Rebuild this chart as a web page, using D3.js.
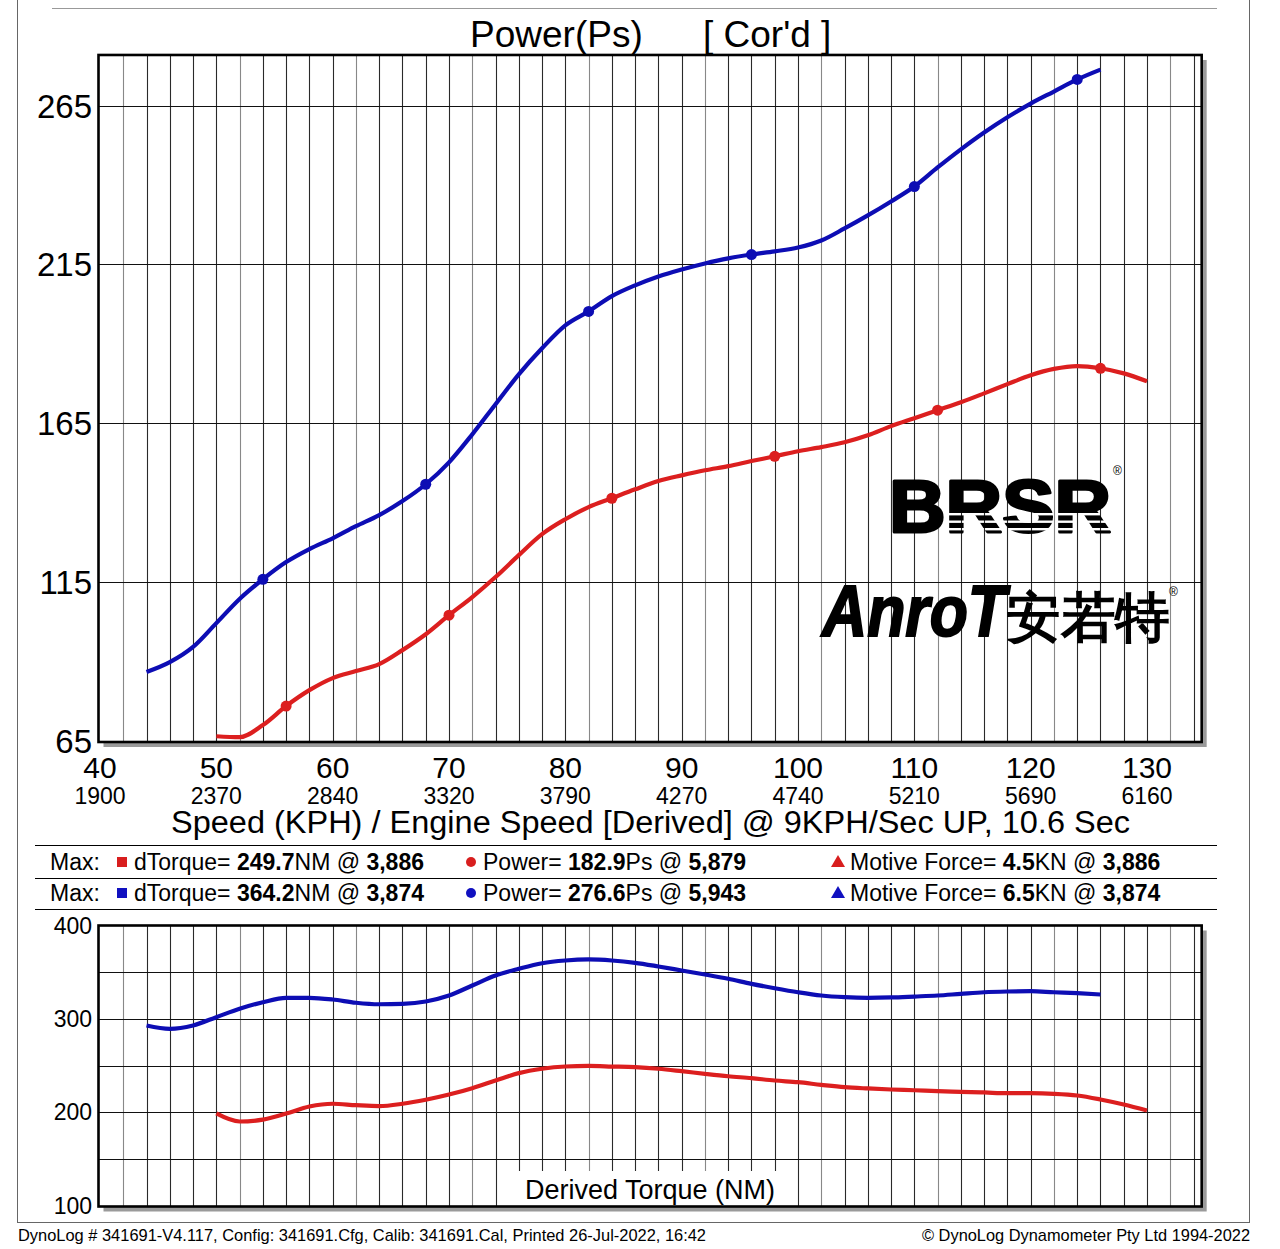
<!DOCTYPE html>
<html><head><meta charset="utf-8">
<script src="https://cdn.jsdelivr.net/npm/d3@7"></script>
<style>body{margin:0;background:#fff}svg{display:block}text{font-family:"Liberation Sans",Arial,sans-serif}</style>
</head><body><div id="c"></div>
<script>
// ---------------- data ----------------
const speedTicks = [40,50,60,70,80,90,100,110,120,130];
const rpmTicks = ["1900","2370","2840","3320","3790","4270","4740","5210","5690","6160"];
const powerTicks = [65,115,165,215,265];
const torqueTicks = [100,200,300,400];

const blueSpeed = d3.range(44,127,2);
const redSpeed = d3.range(50,131,2);

const bluePower = [86.7,89.8,94.6,102.1,109.7,115.9,121.3,125.4,128.8,132.6,136.1,140.5,145.8,152.7,161.5,171.0,180.4,188.6,195.8,200.2,205.0,208.4,211.2,213.4,215.3,216.9,218.1,219.1,220.3,222.5,226.3,230.4,234.8,239.5,245.5,251.2,256.5,261.3,265.6,269.4,273.2,276.3];
const redPower = [66.5,66.2,70,76,81,84.8,87,89.2,93.6,98.6,104.6,110.3,116.6,123.5,130.1,134.8,138.6,141.4,144.2,146.8,148.6,150.2,151.5,153.1,154.6,156.2,157.5,159,161.2,164.1,166.6,169.1,171.6,174.4,177.3,180.1,182.1,183,182.3,180.7,178.2];
const blueTorque = [292.9,289.3,292.9,301.8,310.8,317.8,322.5,322.5,320.7,317.2,315.6,316.1,318.6,325,335.7,346.4,353.6,359.6,362.5,363.6,362.5,360,356.1,351.8,347.5,342.9,337.5,332.8,328.5,325,323.2,322.5,322.9,323.9,325,326.8,328.5,329.3,329.6,328.5,327.5,326.1];
const redTorque = [198.6,190,192,198.5,206,209,207.5,206.5,209,213.3,218.9,225.7,233.9,241.8,246.5,248.9,249.5,248.9,248.2,246.5,243.9,241.1,238.5,236.4,233.9,232.1,229.3,226.8,225.4,224.3,223.5,222.5,221.8,221.1,220.3,220.3,219.7,217.9,213.6,208.2,201.8];

const blueMarkers = [54,68,82,96,110,124];
const redMarkers = [56,70,84,98,112,126];

const legendRows = [
  {color:"#d81e1e", torque:"249.7", tRpm:"3,886", power:"182.9", pRpm:"5,879", force:"4.5", fRpm:"3,886"},
  {color:"#1010c0", torque:"364.2", tRpm:"3,874", power:"276.6", pRpm:"5,943", force:"6.5", fRpm:"3,874"}
];

// ---------------- drawing ----------------
const W=1280,H=1249;
const BLUE="#0d0db4", RED="#dc1f1f";
const svg = d3.select("#c").append("svg").attr("width",W).attr("height",H);

const x = d3.scaleLinear().domain([40,130]).range([100,1147]);
const xEnd = 134.7;
const yP = d3.scaleLinear().domain([65,265]).range([741,105.5]);
const yT = d3.scaleLinear().domain([100,400]).range([1205.5,925.5]);

// outer page frame
const g0 = svg.append("g").attr("stroke","#666").attr("stroke-width",1);
g0.append("line").attr("x1",52).attr("x2",1217).attr("y1",8.5).attr("y2",8.5).attr("stroke","#999");
g0.append("line").attr("x1",17.5).attr("x2",17.5).attr("y1",0).attr("y2",1222);
g0.append("line").attr("x1",1249.5).attr("x2",1249.5).attr("y1",0).attr("y2",1222);
g0.append("line").attr("x1",17).attr("x2",1250).attr("y1",1222.5).attr("y2",1222.5);

function panel(y, yTopVal, yBotVal, hTicks){
  const x0 = x(40)-1.5, x1 = x(xEnd), y0 = y(yTopVal), y1 = y(yBotVal)+1;
  const g = svg.append("g");
  g.append("rect").attr("x",x0+5).attr("y",y0+5).attr("width",x1-x0).attr("height",y1-y0).attr("fill","#9a9a9a");
  g.append("rect").attr("x",x0).attr("y",y0).attr("width",x1-x0).attr("height",y1-y0).attr("fill","#fff");
  const vt = d3.range(42, xEnd, 2);
  g.selectAll(".v").data(vt).join("line")
    .attr("x1",d=>Math.round(x(d))+0.5).attr("x2",d=>Math.round(x(d))+0.5)
    .attr("y1",y0).attr("y2",y1)
    .attr("stroke",(d,i)=> (i%5===0)?"#888":"#2a2a2a").attr("stroke-width",1.1);
  g.selectAll(".h").data(hTicks).join("line")
    .attr("x1",x0).attr("x2",x1)
    .attr("y1",d=>Math.round(y(d))+0.5).attr("y2",d=>Math.round(y(d))+0.5)
    .attr("stroke","#111").attr("stroke-width",1.2);
  return {g,x0,x1,y0,y1};
}
function frame(p){
  p.g.append("rect").attr("x",p.x0).attr("y",p.y0).attr("width",p.x1-p.x0).attr("height",p.y1-p.y0)
    .attr("fill","none").attr("stroke","#000").attr("stroke-width",2.6);
}

// ---- top panel ----
const topP = panel(yP, 280.9, 65, [115,165,215,265]);

// logo (drawn over grid)
const defs = svg.append("defs");
const mask = defs.append("mask").attr("id","stripes").attr("maskUnits","userSpaceOnUse")
  .attr("x",0).attr("y",0).attr("width",W).attr("height",H);
mask.append("rect").attr("width",W).attr("height",H).attr("fill","#fff");
[513,520.5,528].forEach(yy=>mask.append("rect").attr("x",944).attr("y",yy).attr("width",180).attr("height",2.4).attr("fill","#000"));
const logo = svg.append("g");
logo.append("text").attr("x",889).attr("y",532).attr("font-family","DejaVu Sans").attr("font-weight","bold")
  .attr("font-size",74).attr("textLength",222).attr("lengthAdjust","spacingAndGlyphs")
  .attr("fill","#000").attr("stroke","#000").attr("stroke-width",3).attr("stroke-linejoin","round")
  .attr("mask","url(#stripes)").text("BRSR");
logo.append("text").attr("x",1113).attr("y",475).attr("font-size",12).text("®");
logo.append("text").attr("x",822).attr("y",636).attr("font-family","DejaVu Sans").attr("font-weight","bold")
  .attr("font-style","italic").attr("font-size",72).attr("textLength",184).attr("lengthAdjust","spacingAndGlyphs")
  .attr("fill","#000").attr("stroke","#000").attr("stroke-width",2).text("AnroT");
logo.append("text").attr("x",1006).attr("y",636).attr("font-family","Noto Sans CJK SC").attr("font-weight","bold")
  .attr("font-size",54).attr("textLength",164).attr("lengthAdjust","spacingAndGlyphs").attr("fill","#000").text("安若特");
logo.append("text").attr("x",1169).attr("y",596).attr("font-size",12).text("®");

frame(topP);

const line = (ys, yScale, xs) => d3.line().curve(d3.curveMonotoneX)
  .x((d,i)=>x(xs[i])).y(d=>yScale(d))(ys);

svg.append("path").attr("d",line(bluePower,yP,blueSpeed)).attr("fill","none").attr("stroke",BLUE).attr("stroke-width",4.2).attr("stroke-linejoin","round");
svg.append("path").attr("d",line(redPower,yP,redSpeed)).attr("fill","none").attr("stroke",RED).attr("stroke-width",4.2).attr("stroke-linejoin","round");
svg.selectAll(".bm").data(blueMarkers).join("circle")
  .attr("cx",d=>x(d)).attr("cy",d=>yP(bluePower[blueSpeed.indexOf(d)])).attr("r",5.5).attr("fill",BLUE);
svg.selectAll(".rm").data(redMarkers).join("circle")
  .attr("cx",d=>x(d)).attr("cy",d=>yP(redPower[redSpeed.indexOf(d)])).attr("r",5.5).attr("fill",RED);

// y ticks top
svg.selectAll(".pt").data(powerTicks).join("text")
  .attr("x",92).attr("y",d=>yP(d)+12).attr("text-anchor","end").attr("font-size",33).attr("fill","#000").text(d=>d);

// title
svg.append("text").attr("x",470).attr("y",47).attr("font-size",37).text("Power(Ps)");
svg.append("text").attr("x",703).attr("y",47).attr("font-size",37).text("[ Cor'd ]");

// x ticks
svg.selectAll(".xt").data(speedTicks).join("text")
  .attr("x",d=>x(d)).attr("y",778).attr("text-anchor","middle").attr("font-size",30).text(d=>d);
svg.selectAll(".rt").data(rpmTicks).join("text")
  .attr("x",(d,i)=>x(speedTicks[i])).attr("y",804).attr("text-anchor","middle").attr("font-size",23).text(d=>d);
svg.append("text").attr("x",171).attr("y",833).attr("font-size",31)
  .attr("textLength",959).attr("lengthAdjust","spacingAndGlyphs")
  .text("Speed (KPH) / Engine Speed [Derived] @ 9KPH/Sec UP, 10.6 Sec");

// legend
[845,878,909].forEach(yy=>svg.append("line").attr("x1",35).attr("x2",1217).attr("y1",yy+0.5).attr("y2",yy+0.5).attr("stroke","#000").attr("stroke-width",1.2));
legendRows.forEach((r,i)=>{
  const cy = 862 + i*31, by = cy + 8;
  const g = svg.append("g").attr("font-size",23);
  g.append("text").attr("x",50).attr("y",by).text("Max:");
  g.append("rect").attr("x",117).attr("y",cy-5).attr("width",10).attr("height",10).attr("fill",r.color);
  const t1 = g.append("text").attr("x",134).attr("y",by);
  t1.append("tspan").text("dTorque= ");
  t1.append("tspan").attr("font-weight","bold").text(r.torque);
  t1.append("tspan").text("NM @ ");
  t1.append("tspan").attr("font-weight","bold").text(r.tRpm);
  g.append("circle").attr("cx",471).attr("cy",cy).attr("r",5).attr("fill",r.color);
  const t2 = g.append("text").attr("x",483).attr("y",by);
  t2.append("tspan").text("Power= ");
  t2.append("tspan").attr("font-weight","bold").text(r.power);
  t2.append("tspan").text("Ps @ ");
  t2.append("tspan").attr("font-weight","bold").text(r.pRpm);
  g.append("path").attr("d",`M838,${cy-7}L845,${cy+5}L831,${cy+5}Z`).attr("fill",r.color);
  const t3 = g.append("text").attr("x",850).attr("y",by);
  t3.append("tspan").text("Motive Force= ");
  t3.append("tspan").attr("font-weight","bold").text(r.force);
  t3.append("tspan").text("KN @ ");
  t3.append("tspan").attr("font-weight","bold").text(r.fRpm);
});

// ---- bottom panel ----
const botP = panel(yT, 400, 100, [150,200,250,300,350]);
botP.g.append("rect").attr("x",517).attr("y",1171).attr("width",266).attr("height",36).attr("fill","#fff");
botP.g.append("text").attr("x",650).attr("y",1199).attr("text-anchor","middle").attr("font-size",27).text("Derived Torque (NM)");
frame(botP);
svg.append("path").attr("d",line(blueTorque,yT,blueSpeed)).attr("fill","none").attr("stroke",BLUE).attr("stroke-width",4.2);
svg.append("path").attr("d",line(redTorque,yT,redSpeed)).attr("fill","none").attr("stroke",RED).attr("stroke-width",4.2);
svg.selectAll(".tt").data(torqueTicks).join("text")
  .attr("x",92).attr("y",d=>yT(d)+8).attr("text-anchor","end").attr("font-size",23).text(d=>d);

// footer
svg.append("text").attr("x",18).attr("y",1241).attr("font-size",17).attr("textLength",688).attr("lengthAdjust","spacingAndGlyphs")
  .text("DynoLog # 341691-V4.117, Config: 341691.Cfg, Calib: 341691.Cal, Printed 26-Jul-2022, 16:42");
svg.append("text").attr("x",922).attr("y",1241).attr("font-size",17).attr("textLength",328).attr("lengthAdjust","spacingAndGlyphs")
  .text("© DynoLog Dynamometer Pty Ltd 1994-2022");
</script></body></html>
